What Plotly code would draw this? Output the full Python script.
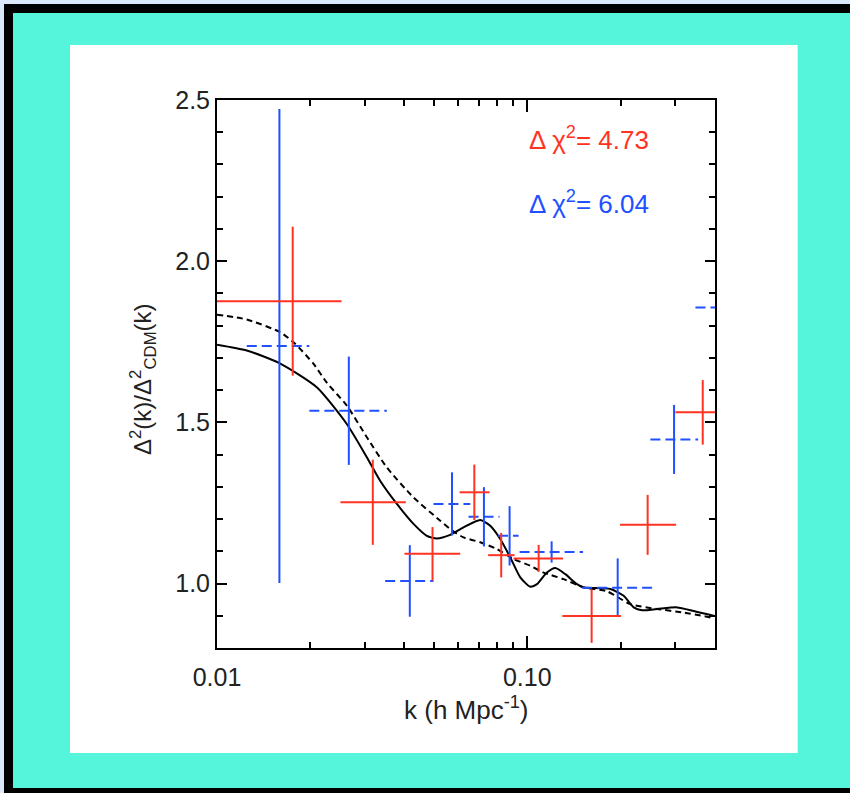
import plotly.graph_objects as go

# ---------------- data ----------------
red_k = [0.01754, 0.03178, 0.0495, 0.0675, 0.0824, 0.1088, 0.1612, 0.2443, 0.3677]
red_k_lo = [0.0100, 0.0250, 0.0402, 0.0605, 0.0748, 0.0903, 0.1297, 0.1991, 0.3002]
red_k_hi = [0.0252, 0.0406, 0.0608, 0.0756, 0.0910, 0.1304, 0.2006, 0.3018, 0.4500]
red_y = [1.876, 1.252, 1.092, 1.283, 1.088, 1.078, 0.899, 1.182, 1.531]
red_err = [0.231, 0.132, 0.083, 0.086, 0.069, 0.042, 0.083, 0.093, 0.100]

blue_k = [0.01589, 0.0266, 0.04182, 0.0572, 0.07249, 0.0877, 0.1198, 0.1956, 0.2972, 0.440]
blue_k_lo = [0.01247, 0.01984, 0.03483, 0.04985, 0.06466, 0.08045, 0.09445, 0.1502, 0.2493, 0.3483]
blue_k_hi = [0.01984, 0.03527, 0.04985, 0.06548, 0.0814, 0.09374, 0.1513, 0.2525, 0.3553, 0.5500]
blue_y = [1.737, 1.536, 1.008, 1.247, 1.207, 1.148, 1.098, 0.987, 1.447, 1.856]
blue_err = [0.735, 0.168, 0.111, 0.098, 0.092, 0.092, 0.033, 0.091, 0.107, 0.120]

solid_k = [0.0100, 0.01247, 0.01589, 0.02097, 0.02620, 0.03040, 0.03355, 0.03800,
           0.04299, 0.04747, 0.05113, 0.05644, 0.06229, 0.07053, 0.07598, 0.08180, 0.08815,
           0.09493, 0.1023, 0.1075, 0.1157, 0.1231, 0.1326, 0.1446, 0.1519, 0.1852, 0.2045,
           0.2203, 0.2344, 0.2619, 0.3040, 0.3440, 0.3990]
solid_y = [1.741, 1.723, 1.684, 1.609, 1.495, 1.392, 1.319, 1.247,
           1.185, 1.148, 1.140, 1.151, 1.174, 1.197, 1.179, 1.138, 1.081,
           1.019, 0.990, 0.998, 1.034, 1.048, 1.029, 0.998, 0.988, 0.983, 0.962,
           0.926, 0.917, 0.921, 0.926, 0.915, 0.900]

dashed_k = [0.0100, 0.01247, 0.01596, 0.01785, 0.02045, 0.02259, 0.02620, 0.03040, 0.03527,
            0.04299, 0.05241, 0.05716, 0.06229, 0.07053, 0.07983, 0.09034, 0.1023, 0.1129,
            0.1310, 0.1519, 0.1806, 0.2149, 0.2619, 0.3193, 0.3990]
dashed_y = [1.834, 1.819, 1.780, 1.744, 1.682, 1.623, 1.552, 1.454, 1.360,
            1.267, 1.195, 1.165, 1.143, 1.128, 1.107, 1.076, 1.055, 1.034,
            1.0135, 0.988, 0.976, 0.936, 0.921, 0.910, 0.893]

x_tickvals = [0.01, 0.1]
x_ticktext = ["0.01", "0.10"]
x_minor = [0.02, 0.03, 0.04, 0.05, 0.06, 0.07, 0.08, 0.09, 0.2, 0.3, 0.4]
chi_red = "Δ χ<sup>2</sup>= 4.73"
chi_blue = "Δ χ<sup>2</sup>= 6.04"

RED = "#ff3322"
BLUE = "#2050ff"
FONT = "Liberation Sans, Arial, sans-serif"
TXT = "#222222"

# ---------------- layout geometry (pixels) ----------------
W, H = 850, 793
L, R, T, B = 217, 715, 100, 648


def px(p):
    return (p - L) / (R - L)


def py(p):
    return (B - p) / (B - T)


fig = go.Figure()

# curves
fig.add_trace(go.Scatter(x=solid_k, y=solid_y, mode="lines",
                         line=dict(color="black", width=2, shape="spline", smoothing=0.6),
                         showlegend=False, hoverinfo="skip"))
fig.add_trace(go.Scatter(x=dashed_k, y=dashed_y, mode="lines",
                         line=dict(color="black", width=2, dash="6px,4px", shape="spline", smoothing=0.6),
                         showlegend=False, hoverinfo="skip"))

# blue: dashed horizontal bins
bx, by = [], []
for lo, hi, yv in zip(blue_k_lo, blue_k_hi, blue_y):
    bx += [lo, hi, None]
    by += [yv, yv, None]
fig.add_trace(go.Scatter(x=bx, y=by, mode="lines",
                         line=dict(color=BLUE, width=2, dash="10px,5px"),
                         showlegend=False, hoverinfo="skip"))
# blue: vertical error bars
fig.add_trace(go.Scatter(x=blue_k, y=blue_y, mode="markers",
                         marker=dict(size=0.1, color=BLUE, opacity=0),
                         error_y=dict(type="data", array=blue_err, color=BLUE, thickness=2, width=0, visible=True),
                         showlegend=False, hoverinfo="skip"))

# red: crosses
fig.add_trace(go.Scatter(x=red_k, y=red_y, mode="markers",
                         marker=dict(size=0.1, color=RED, opacity=0),
                         error_y=dict(type="data", array=red_err, color=RED, thickness=2, width=0, visible=True),
                         error_x=dict(type="data", symmetric=False,
                                      array=[h - k for h, k in zip(red_k_hi, red_k)],
                                      arrayminus=[k - l for k, l in zip(red_k, red_k_lo)],
                                      color=RED, thickness=2, width=0, visible=True),
                         showlegend=False, hoverinfo="skip"))

shapes = [
    # light top/left strips
    dict(type="rect", xref="paper", yref="paper", x0=px(0), x1=px(W), y0=py(0), y1=py(4),
         fillcolor="#dce9fa", line_width=0, layer="below"),
    dict(type="rect", xref="paper", yref="paper", x0=px(0), x1=px(4), y0=py(0), y1=py(H),
         fillcolor="#dce9fa", line_width=0, layer="below"),
    # black frame
    dict(type="rect", xref="paper", yref="paper", x0=px(4), x1=px(W), y0=py(4), y1=py(13),
         fillcolor="black", line_width=0, layer="below"),
    dict(type="rect", xref="paper", yref="paper", x0=px(4), x1=px(13), y0=py(4), y1=py(H),
         fillcolor="black", line_width=0, layer="below"),
    dict(type="rect", xref="paper", yref="paper", x0=px(4), x1=px(W), y0=py(788), y1=py(H),
         fillcolor="black", line_width=0, layer="below"),
    # white panel
    dict(type="rect", xref="paper", yref="paper", x0=px(70), x1=px(797.7), y0=py(45), y1=py(753),
         fillcolor="white", line_width=0, layer="below"),
]

annotations = [
    dict(text=chi_red, xref="paper", yref="paper", x=px(527), y=py(138), xanchor="left", yanchor="middle",
         showarrow=False, font=dict(family=FONT, size=26, color=RED)),
    dict(text=chi_blue, xref="paper", yref="paper", x=px(527), y=py(202), xanchor="left", yanchor="middle",
         showarrow=False, font=dict(family=FONT, size=26, color=BLUE)),
    dict(text="k (h Mpc<sup>-1</sup>)", xref="paper", yref="paper", x=px(466), y=py(708),
         xanchor="center", yanchor="middle", showarrow=False,
         font=dict(family=FONT, size=26, color=TXT)),
    dict(text="Δ<sup>2</sup>(k)/Δ<sup>2</sup><sub>CDM</sub>(k)", xref="paper", yref="paper",
         x=px(143), y=py(379), xanchor="center", yanchor="middle", textangle=-90, showarrow=False,
         font=dict(family=FONT, size=24, color=TXT)),
]

fig.update_layout(
    width=W, height=H,
    margin=dict(l=L, r=W - R, t=T, b=H - B, pad=0),
    paper_bgcolor="#55f5db",
    plot_bgcolor="white",
    shapes=shapes,
    annotations=annotations,
    font=dict(family=FONT, size=25, color=TXT),
    showlegend=False,
)

fig.update_xaxes(
    type="log", range=[-2, -0.395],
    tickvals=x_tickvals, ticktext=x_ticktext,
    ticks="inside", ticklen=12, tickwidth=1.5, tickcolor="black",
    showline=True, linecolor="black", linewidth=2, mirror="ticks",
    showgrid=False, zeroline=False, ticklabelstandoff=6,
    tickfont=dict(family=FONT, size=25, color=TXT),
    minor=dict(tickvals=x_minor, ticks="inside", ticklen=6, tickwidth=1.5, tickcolor="black", showgrid=False),
)
fig.update_yaxes(
    range=[0.8, 2.5], tick0=0, dtick=0.5, tickformat=".1f",
    ticks="inside", ticklen=10, tickwidth=1.5, tickcolor="black",
    showline=True, linecolor="black", linewidth=2, mirror="ticks",
    showgrid=False, zeroline=False,
    tickfont=dict(family=FONT, size=25, color=TXT),
    minor=dict(dtick=0.1, ticks="inside", ticklen=6, tickwidth=1.5, tickcolor="black", showgrid=False),
)

fig.write_html(
    "out.html",
    config={"displayModeBar": False},
    post_script="document.body.style.margin='0';document.documentElement.style.overflow='hidden';document.body.style.overflow='hidden';",
)
